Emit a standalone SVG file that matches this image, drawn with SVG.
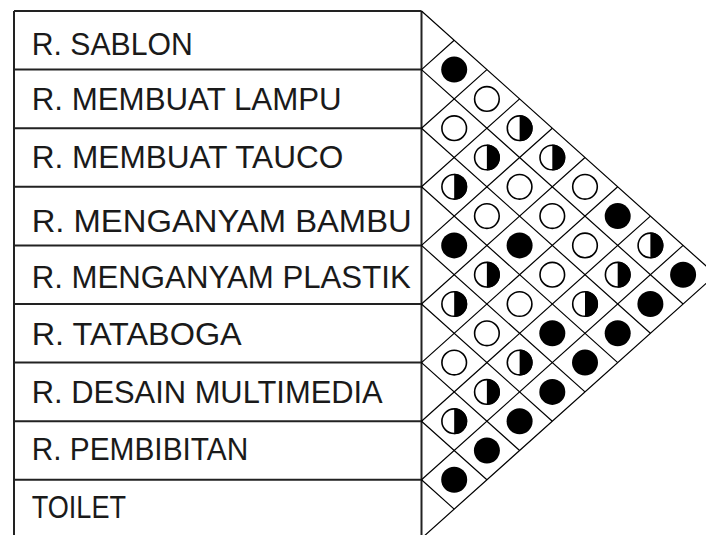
<svg xmlns="http://www.w3.org/2000/svg" xmlns:xlink="http://www.w3.org/1999/xlink" width="706" height="535" viewBox="0 0 706 535">
<style>
.tl{stroke:#222;stroke-width:2;fill:none}
.gl{stroke:#000;stroke-width:1.2;fill:none}
.lb{font-family:"Liberation Sans",Arial,sans-serif;font-size:32px;fill:#1a1a1a}
</style>
<defs>
<g id="F"><circle r="13" fill="#000"/></g>
<g id="O"><circle r="12.3" fill="#fff" stroke="#000" stroke-width="1.6"/></g>
<g id="H"><circle r="12.3" fill="#fff" stroke="#000" stroke-width="1.6"/><path d="M0,-13 A13,13 0 0 1 0,13 Z" fill="#000"/></g>
</defs>
<rect width="706" height="535" fill="#fff"/>
<g id="table">
<path class="tl" d="M14,11 V535 M421.5,11 V535 M14,11 H421.5 M14,69.6 H421.5 M14,128.2 H421.5 M14,186.8 H421.5 M14,245.4 H421.5 M14,304 H421.5 M14,362.6 H421.5 M14,421.2 H421.5 M14,479.8 H421.5"/>
</g>
<g id="row-sablon"><text class="lb" x="31.7" y="55" textLength="161" lengthAdjust="spacingAndGlyphs">R. SABLON</text></g>
<g id="row-lampu"><text class="lb" x="31.7" y="110" textLength="310" lengthAdjust="spacingAndGlyphs">R. MEMBUAT LAMPU</text></g>
<g id="row-tauco"><text class="lb" x="31.7" y="168.3" textLength="311.6" lengthAdjust="spacingAndGlyphs">R. MEMBUAT TAUCO</text></g>
<g id="row-bambu"><text class="lb" x="31.7" y="231.7" textLength="380" lengthAdjust="spacingAndGlyphs">R. MENGANYAM BAMBU</text></g>
<g id="row-plastik"><text class="lb" x="31.7" y="288.3" textLength="379" lengthAdjust="spacingAndGlyphs">R. MENGANYAM PLASTIK</text></g>
<g id="row-tataboga"><text class="lb" x="31.7" y="345" textLength="210" lengthAdjust="spacingAndGlyphs">R. TATABOGA</text></g>
<g id="row-desain"><text class="lb" x="31.7" y="403.3" textLength="351" lengthAdjust="spacingAndGlyphs">R. DESAIN MULTIMEDIA</text></g>
<g id="row-pembibitan"><text class="lb" x="31.7" y="460" textLength="216.6" lengthAdjust="spacingAndGlyphs">R. PEMBIBITAN</text></g>
<g id="row-toilet"><text class="lb" x="31.7" y="518.3" textLength="94.3" lengthAdjust="spacingAndGlyphs">TOILET</text></g>
<g id="connectors">
<path class="gl" d="M421.5,11 L715.8,274.7 M421.5,69.6 L683.1,304 M421.5,128.2 L650.4,333.3 M421.5,186.8 L617.7,362.6 M421.5,245.4 L585,391.9 M421.5,304 L552.3,421.2 M421.5,362.6 L519.6,450.5 M421.5,421.2 L486.9,479.8 M421.5,479.8 L454.2,509.1"/>
<path class="gl" d="M421.5,69.6 L454.2,40.3 M421.5,128.2 L486.9,69.6 M421.5,186.8 L519.6,98.9 M421.5,245.4 L552.3,128.2 M421.5,304 L585,157.5 M421.5,362.6 L617.7,186.8 M421.5,421.2 L650.4,216.1 M421.5,479.8 L683.1,245.4 M421.5,538.4 L715.8,274.7"/>
</g>
<g id="matrix">
<use xlink:href="#F" x="454.2" y="69.6"/>
<use xlink:href="#O" x="454.2" y="128.2"/>
<use xlink:href="#H" x="454.2" y="186.8"/>
<use xlink:href="#F" x="454.2" y="245.4"/>
<use xlink:href="#H" x="454.2" y="304"/>
<use xlink:href="#O" x="454.2" y="362.6"/>
<use xlink:href="#H" x="454.2" y="421.2"/>
<use xlink:href="#F" x="454.2" y="479.8"/>
<use xlink:href="#O" x="486.9" y="98.9"/>
<use xlink:href="#H" x="486.9" y="157.5"/>
<use xlink:href="#O" x="486.9" y="216.1"/>
<use xlink:href="#H" x="486.9" y="274.7"/>
<use xlink:href="#O" x="486.9" y="333.3"/>
<use xlink:href="#H" x="486.9" y="391.9"/>
<use xlink:href="#F" x="486.9" y="450.5"/>
<use xlink:href="#H" x="519.6" y="128.2"/>
<use xlink:href="#O" x="519.6" y="186.8"/>
<use xlink:href="#F" x="519.6" y="245.4"/>
<use xlink:href="#O" x="519.6" y="304"/>
<use xlink:href="#H" x="519.6" y="362.6"/>
<use xlink:href="#F" x="519.6" y="421.2"/>
<use xlink:href="#H" x="552.3" y="157.5"/>
<use xlink:href="#O" x="552.3" y="216.1"/>
<use xlink:href="#O" x="552.3" y="274.7"/>
<use xlink:href="#F" x="552.3" y="333.3"/>
<use xlink:href="#F" x="552.3" y="391.9"/>
<use xlink:href="#O" x="585" y="186.8"/>
<use xlink:href="#O" x="585" y="245.4"/>
<use xlink:href="#H" x="585" y="304"/>
<use xlink:href="#F" x="585" y="362.6"/>
<use xlink:href="#F" x="617.7" y="216.1"/>
<use xlink:href="#H" x="617.7" y="274.7"/>
<use xlink:href="#F" x="617.7" y="333.3"/>
<use xlink:href="#H" x="650.4" y="245.4"/>
<use xlink:href="#F" x="650.4" y="304"/>
<use xlink:href="#F" x="683.1" y="274.7"/>
</g>
</svg>
